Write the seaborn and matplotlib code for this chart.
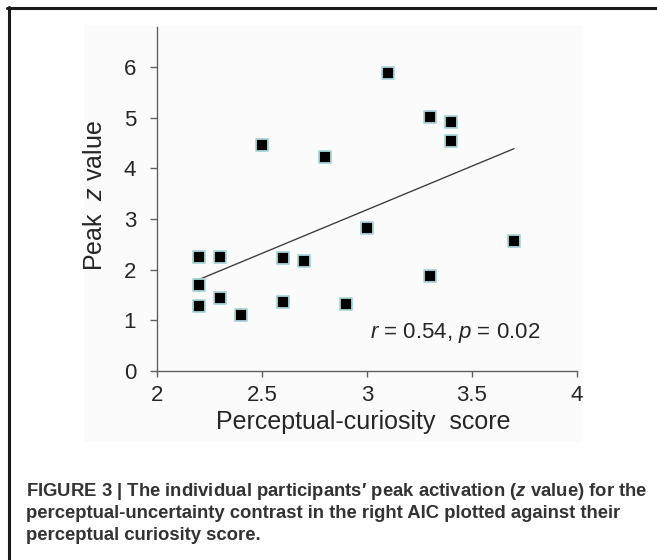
#!/usr/bin/env python
"""Peak z value vs perceptual-curiosity score (scatter with fitted line)."""

import matplotlib
matplotlib.use('Agg')
import matplotlib.pyplot as plt
from matplotlib import font_manager
from matplotlib.lines import Line2D
from matplotlib.patches import Rectangle
import seaborn as sns
import pandas as pd

# data
curiosity = [2.2, 2.3, 2.2, 2.2, 2.3, 2.4, 2.5, 2.6, 2.6, 2.7,
             2.8, 2.9, 3.0, 3.1, 3.3, 3.3, 3.4, 3.4, 3.7]
peak_z = [2.25, 2.25, 1.69, 1.28, 1.44, 1.11, 4.46, 2.23, 1.36, 2.16,
          4.22, 1.32, 2.82, 5.88, 5.01, 1.88, 4.91, 4.55, 2.57]
x_ticks = [2, 2.5, 3, 3.5, 4]
y_ticks = [0, 1, 2, 3, 4, 5, 6]
stats_label = "$r$ = 0.54, $p$ = 0.02"
caption_lines = [
    "FIGURE 3 | The individual participants\u2032 peak activation ($\\mathbfit{z}$ value) for the",
    "perceptual-uncertainty contrast in the right AIC plotted against their",
    "perceptual curiosity score.",
]

sns.set_style('white')
installed = {f.name for f in font_manager.fontManager.ttflist}
main_font = 'Liberation Sans' if 'Liberation Sans' in installed else 'DejaVu Sans'
cap_font = main_font
for name in ['Liberation Sans Narrow', 'DejaVu Sans Condensed']:
    if name in installed:
        cap_font = name
        break

plt.rcParams.update({
    'font.family': [main_font, 'DejaVu Sans'],
    'mathtext.fontset': 'custom',
    'mathtext.rm': main_font,
    'mathtext.it': f'{main_font}:italic',
    'mathtext.bf': f'{cap_font}:bold',
})
if 'mathtext.bfit' in plt.rcParams:
    plt.rcParams['mathtext.bfit'] = f'{cap_font}:italic:bold'
else:
    caption_lines[0] = caption_lines[0].replace('\\mathbfit', '\\mathbf')

df = pd.DataFrame({'score': curiosity, 'z': peak_z})

W, H = 657, 560
fig = plt.figure(figsize=(W / 100, H / 100), dpi=100, facecolor='white')

# faint plot-area panel and the page frame (top + left rules)
fig.patches.append(Rectangle((84 / W, 1 - 442 / H), (582 - 84) / W, (442 - 25) / H,
                             transform=fig.transFigure, facecolor='#fbfbfb',
                             edgecolor='none', zorder=-5))
fig.add_artist(Line2D([7 / W, 1], [1 - 7.5 / H, 1 - 7.5 / H], color='#1a1a1a', lw=2.2))
fig.add_artist(Line2D([8.5 / W, 8.5 / W], [0, 1 - 7 / H], color='#1a1a1a', lw=2.2))

ax = fig.add_axes([157 / W, 1 - 370.7 / H, 420 / W, 344 / H])
ax.set_facecolor('none')
ax.set_zorder(2)

sns.regplot(data=df, x='score', y='z', scatter=False, ci=None, ax=ax,
            line_kws={'color': '#404040', 'lw': 1.0})
sns.scatterplot(data=df, x='score', y='z', marker='s', s=72, color='black',
                edgecolor='#a9d6d9', linewidth=1.3, ax=ax, zorder=5)

ax.set_xlim(2, 4)
ax.set_ylim(0, 6.8)
ax.set_xticks(x_ticks)
ax.set_xticklabels([f'{t:g}' for t in x_ticks])
ax.set_yticks(y_ticks)

for side in ['top', 'right']:
    ax.spines[side].set_visible(False)
for side in ['left', 'bottom']:
    ax.spines[side].set_color('#606060')
    ax.spines[side].set_linewidth(1.0)

ax.tick_params(axis='y', direction='out', length=5, width=1, color='#606060',
               pad=10, labelsize=16, left=True)
ax.tick_params(axis='x', direction='out', length=4.5, width=1, color='#606060',
               pad=6, labelsize=16, bottom=True)

ax.set_xlabel("Perceptual-curiosity  score", fontsize=18)
ax.set_ylabel("Peak  $z$ value", fontsize=18)
ax.xaxis.set_label_coords(0.49, -0.115)
ax.yaxis.set_label_coords(-0.118, 0.51)

ax.text(3.014, 0.64, stats_label, fontsize=16, ha='left', va='baseline')

# caption, scaled so the first line spans the same width as the original
cap_texts = []
for i, line in enumerate(caption_lines):
    t = fig.text(26 / W, 1 - (496 + 22 * i) / H, line, fontsize=12.5,
                 fontweight='bold', color='#333333', ha='left', va='baseline',
                 family=[cap_font, 'DejaVu Sans'])
    cap_texts.append(t)

fig.canvas.draw()
renderer = fig.canvas.get_renderer()
width = cap_texts[0].get_window_extent(renderer).width
new_size = 12.5 * (649 - 26) / width
for t in cap_texts:
    t.set_fontsize(new_size)

fig.savefig('out.png', dpi=100, facecolor='white')
plt.close(fig)
